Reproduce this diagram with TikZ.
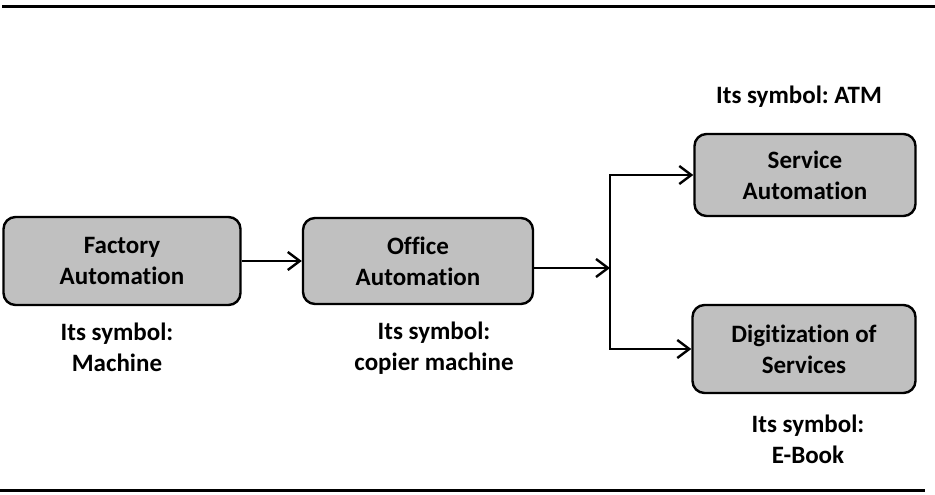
\documentclass[tikz,border=0pt]{standalone}
\usepackage{fontspec}
\setmainfont{Carlito}[RawFeature={-liga}]
\usepackage{xcolor}
\usetikzlibrary{positioning,arrows.meta}
\definecolor{boxgray}{RGB}{192,192,192}
\frenchspacing

\begin{document}
\begin{tikzpicture}[
  x=1pt, y=-1pt,
  font=\fontsize{25}{31}\selectfont\bfseries,
  box/.style={draw, line width=2.4pt, rounded corners=12pt, fill=boxgray, align=center, minimum height=86pt, minimum width=230pt, inner sep=0pt},
  lbl/.style={align=center, inner sep=0pt},
  arr/.style={-{Straight Barb[length=12pt,width=18pt]}, line width=2.4pt},
  rule/.style={line width=3pt},
  node distance=26pt]
\useasboundingbox (0,0) rectangle (935,495);
\draw[rule] (2,7) -- (935,7);
\draw[rule] (0,490) -- (925,490);
\node[box, minimum width=237pt, minimum height=88pt] (factory) at (122,261) {Factory\\Automation};
\node[box] (office) at (418,261) {Office\\Automation};
\node[box, minimum width=221pt, minimum height=82pt] (service) at (805,175) {Service\\Automation};
\node[box, minimum width=223pt, minimum height=88pt] (digit) at (804,349) {Digitization of\\Services};
\node[lbl] (factorysym) at (117,347) {Its symbol:\\Machine};
\node[lbl] (officesym) at (434,348) {Its symbol:\\copier machine};
\node[lbl] (servicesym) at (799,97) {Its symbol: ATM};
\node[lbl] (digitsym) at (808,439) {Its symbol:\\E-Book};
\coordinate (split) at (610,268);
\draw[arr] (factory) -- (office);
\draw[arr] (office.east |- split) -- (split);
\draw[arr] (split) |- (service);
\draw[arr] (split) |- (digit);
\end{tikzpicture}
\end{document}
